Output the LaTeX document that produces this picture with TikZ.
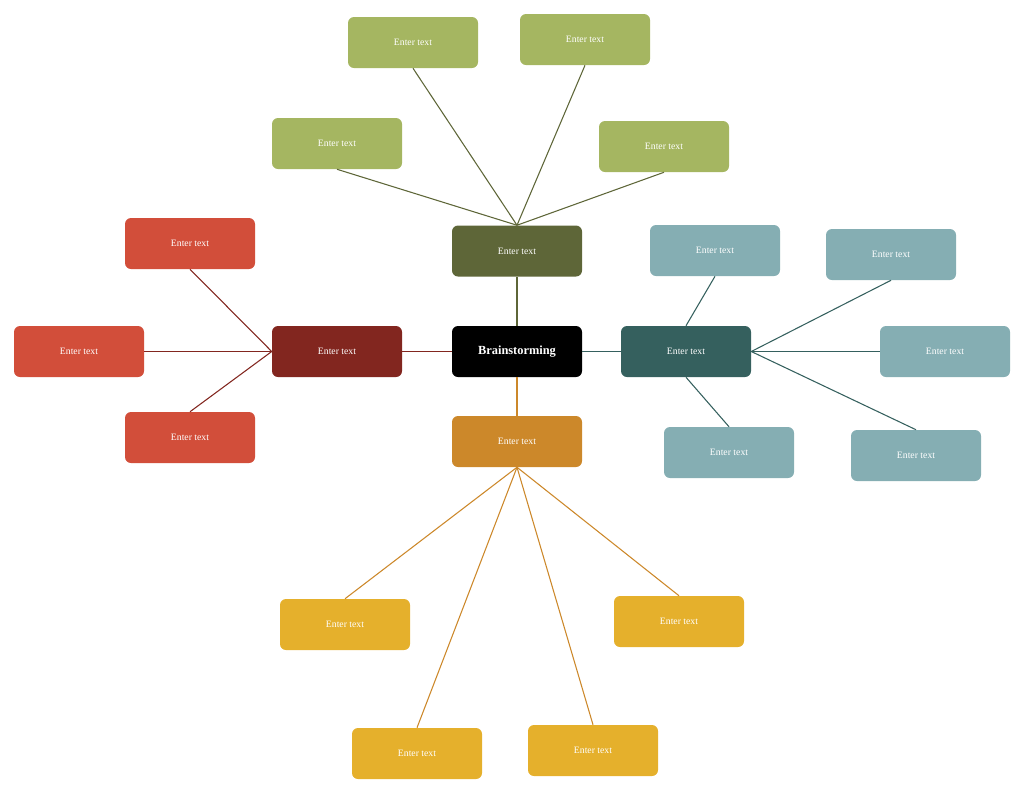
\documentclass[tikz,border=0pt]{standalone}
\usepackage{fontspec}
\setmainfont{Liberation Serif}
\definecolor{gmain}{HTML}{5E6638}
\definecolor{gleaf}{HTML}{A5B661}
\definecolor{rmain}{HTML}{82261F}
\definecolor{rleaf}{HTML}{D24E3A}
\definecolor{tmain}{HTML}{35605E}
\definecolor{tleaf}{HTML}{85AEB3}
\definecolor{omain}{HTML}{CC882A}
\definecolor{oleaf}{HTML}{E5B02C}
\begin{document}
\begin{tikzpicture}[x=0.75pt,y=-0.75pt,
  box/.style={rectangle,rounded corners=4.5pt,minimum width=97.5pt,minimum height=38.25pt,inner sep=0pt,text=white,font=\fontsize{7.3}{9}\selectfont},
  center/.style={box,fill=black,font=\fontsize{9.3}{11}\selectfont\bfseries},
  gm/.style={box,fill=gmain}, gl/.style={box,fill=gleaf},
  rm/.style={box,fill=rmain}, rl/.style={box,fill=rleaf},
  tm/.style={box,fill=tmain}, tl/.style={box,fill=tleaf},
  om/.style={box,fill=omain}, ol/.style={box,fill=oleaf},
  glink/.style={draw=gmain,line width=0.8pt},
  rlink/.style={draw=rmain,line width=0.8pt},
  tlink/.style={draw=tmain,line width=0.8pt},
  olink/.style={draw=omain,line width=0.8pt}]
\useasboundingbox (0,0) rectangle (1024,794);
\node[center] (c) at (517,351.5) {Brainstorming};
\node[gm] (g) at (517,251) {Enter text};
\node[rm] (r) at (337,351.5) {Enter text};
\node[tm] (t) at (686,351.5) {Enter text};
\node[om] (o) at (517,441.5) {Enter text};
% green leaves
\node[gl] (g1) at (413,42.5) {Enter text};
\node[gl] (g2) at (585,39.5) {Enter text};
\node[gl] (g3) at (337,143.5) {Enter text};
\node[gl] (g4) at (664,146.5) {Enter text};
% red leaves
\node[rl] (r1) at (190,243.5) {Enter text};
\node[rl] (r2) at (79,351.5) {Enter text};
\node[rl] (r3) at (190,437.5) {Enter text};
% teal leaves
\node[tl] (t1) at (715,250.5) {Enter text};
\node[tl] (t2) at (891,254.5) {Enter text};
\node[tl] (t3) at (945,351.5) {Enter text};
\node[tl] (t4) at (729,452.5) {Enter text};
\node[tl] (t5) at (916,455.5) {Enter text};
% yellow leaves
\node[ol] (o1) at (345,624.5) {Enter text};
\node[ol] (o2) at (417,753.5) {Enter text};
\node[ol] (o3) at (593,750.5) {Enter text};
\node[ol] (o4) at (679,621.5) {Enter text};
% links
\begin{scope}[on background layer/.style={}]
\draw[glink] (c.north) -- (g.south);
\draw[rlink] (c.west) -- (r.east);
\draw[tlink] (c.east) -- (t.west);
\draw[olink] (c.south) -- (o.north);
\draw[glink] (g.north) -- (g1.south);
\draw[glink] (g.north) -- (g2.south);
\draw[glink] (g.north) -- (g3.south);
\draw[glink] (g.north) -- (g4.south);
\draw[rlink] (r.west) -- (r1.south);
\draw[rlink] (r.west) -- (r2.east);
\draw[rlink] (r.west) -- (r3.north);
\draw[tlink] (t.north) -- (t1.south);
\draw[tlink] (t.east) -- (t2.south);
\draw[tlink] (t.east) -- (t3.west);
\draw[tlink] (t.south) -- (t4.north);
\draw[tlink] (t.east) -- (t5.north);
\draw[olink] (o.south) -- (o1.north);
\draw[olink] (o.south) -- (o2.north);
\draw[olink] (o.south) -- (o3.north);
\draw[olink] (o.south) -- (o4.north);
\end{scope}
\end{tikzpicture}
\end{document}
